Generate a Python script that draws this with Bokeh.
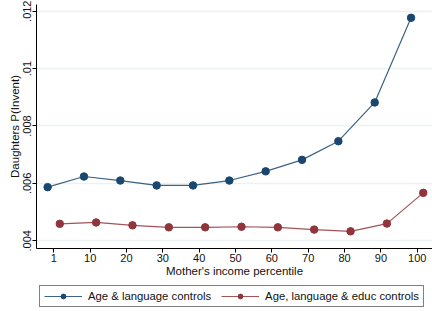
from bokeh.plotting import figure
from bokeh.layouts import column
from bokeh.models import FixedTicker, Legend, LegendItem, Range1d, ColumnDataSource
from bokeh.transform import dodge
from bokeh.embed import file_html
from bokeh.resources import INLINE

# ---- data ----
pct = [0, 10, 20, 30, 40, 50, 60, 70, 80, 90, 100]
x_tick_labels = ["1", "10", "20", "30", "40", "50", "60", "70", "80", "90", "100"]
age_lang = [0.00587, 0.00624, 0.00610, 0.00593, 0.00593, 0.00610, 0.00642,
            0.00682, 0.00747, 0.00882, 0.01177]
age_lang_educ = [0.00459, 0.00464, 0.00454, 0.00447, 0.00447, 0.00449, 0.00447,
                 0.00439, 0.00433, 0.00460, 0.00567]
y_ticks = [0.004, 0.006, 0.008, 0.010, 0.012]
y_tick_labels = [".004", ".006", ".008", ".01", ".012"]
series_names = ["Age & language controls", "Age, language & educ controls"]

FONT = "Liberation Sans"
BLUE = "#1a476f"
RED = "#90353b"
TXT = "#111111"

src = ColumnDataSource(dict(pct=pct, a=age_lang, b=age_lang_educ))

p = figure(width=432, height=282, output_backend="svg", toolbar_location=None,
           x_range=Range1d(-4.76, 104.2), y_range=Range1d(0.003732, 0.012233),
           min_border_left=36, min_border_right=0, min_border_top=4,
           min_border_bottom=34)
p.outline_line_color = None
p.background_fill_color = "white"
p.border_fill_color = "white"

line_kw = dict(line_width=1.2, line_alpha=0.85)
l1 = p.line(x=dodge("pct", -1.7), y="a", source=src, line_color=BLUE, **line_kw)
s1 = p.scatter(x=dodge("pct", -1.7), y="a", source=src, size=7.5,
               marker="circle", fill_color=BLUE, line_color=BLUE)
l2 = p.line(x=dodge("pct", 1.65), y="b", source=src, line_color=RED, **line_kw)
s2 = p.scatter(x=dodge("pct", 1.65), y="b", source=src, size=7.5,
               marker="circle", fill_color=RED, line_color=RED)

# axes
p.xaxis.ticker = FixedTicker(ticks=pct)
p.xaxis.major_label_overrides = {t: s for t, s in zip(pct, x_tick_labels)}
p.yaxis.ticker = FixedTicker(ticks=y_ticks)
p.yaxis.major_label_overrides = {t: s for t, s in zip(y_ticks, y_tick_labels)}
p.yaxis.major_label_orientation = "vertical"
p.xaxis.axis_label = "Mother's income percentile"
p.yaxis.axis_label = "Daughters P(Invent)"

for ax in (p.xaxis, p.yaxis):
    ax.axis_line_color = "black"
    ax.axis_line_width = 1
    ax.major_tick_line_color = "black"
    ax.major_tick_out = 4
    ax.major_tick_in = 0
    ax.minor_tick_line_color = None
    ax.major_label_text_font = FONT
    ax.major_label_text_font_size = "11px"
    ax.major_label_text_color = TXT
    ax.axis_label_text_font = FONT
    ax.axis_label_text_font_size = "11.5px"
    ax.axis_label_text_font_style = "normal"
    ax.axis_label_text_color = TXT
    ax.major_label_standoff = 1
    ax.axis_label_standoff = 0

p.xgrid.grid_line_color = None
p.ygrid.grid_line_color = "#eaf2f3"
p.ygrid.grid_line_width = 1.5

# ---- legend strip ----
lg = figure(width=432, height=29, output_backend="svg", toolbar_location=None,
            x_axis_type=None, y_axis_type=None,
            x_range=Range1d(0, 1), y_range=Range1d(0, 1),
            min_border_left=0, min_border_right=0, min_border_top=0,
            min_border_bottom=0)
lg.outline_line_color = None
lg.grid.grid_line_color = None
off = [-10, -9]  # keys only: drawn outside the visible range
lg1 = lg.line(x=off, y=off, line_color=BLUE, **line_kw)
lgs1 = lg.scatter(x=off, y=off, size=7.5, marker="circle", fill_color=BLUE,
                  line_color=BLUE)
lg2 = lg.line(x=off, y=off, line_color=RED, **line_kw)
lgs2 = lg.scatter(x=off, y=off, size=7.5, marker="circle", fill_color=RED,
                  line_color=RED)

legend = Legend(items=[LegendItem(label=series_names[0], renderers=[lg1, lgs1]),
                       LegendItem(label=series_names[1], renderers=[lg2, lgs2])],
                orientation="horizontal", location=(3, 4),
                border_line_color="black", border_line_width=1,
                background_fill_color="white",
                padding=4, spacing=10, margin=0,
                glyph_width=38, glyph_height=12, label_height=12,
                label_standoff=6, label_text_font=FONT,
                label_text_font_size="11.3px", label_text_color=TXT)
lg.add_layout(legend)

layout = column(p, lg, spacing=0)
open("out.html", "w").write(file_html(layout, INLINE))
